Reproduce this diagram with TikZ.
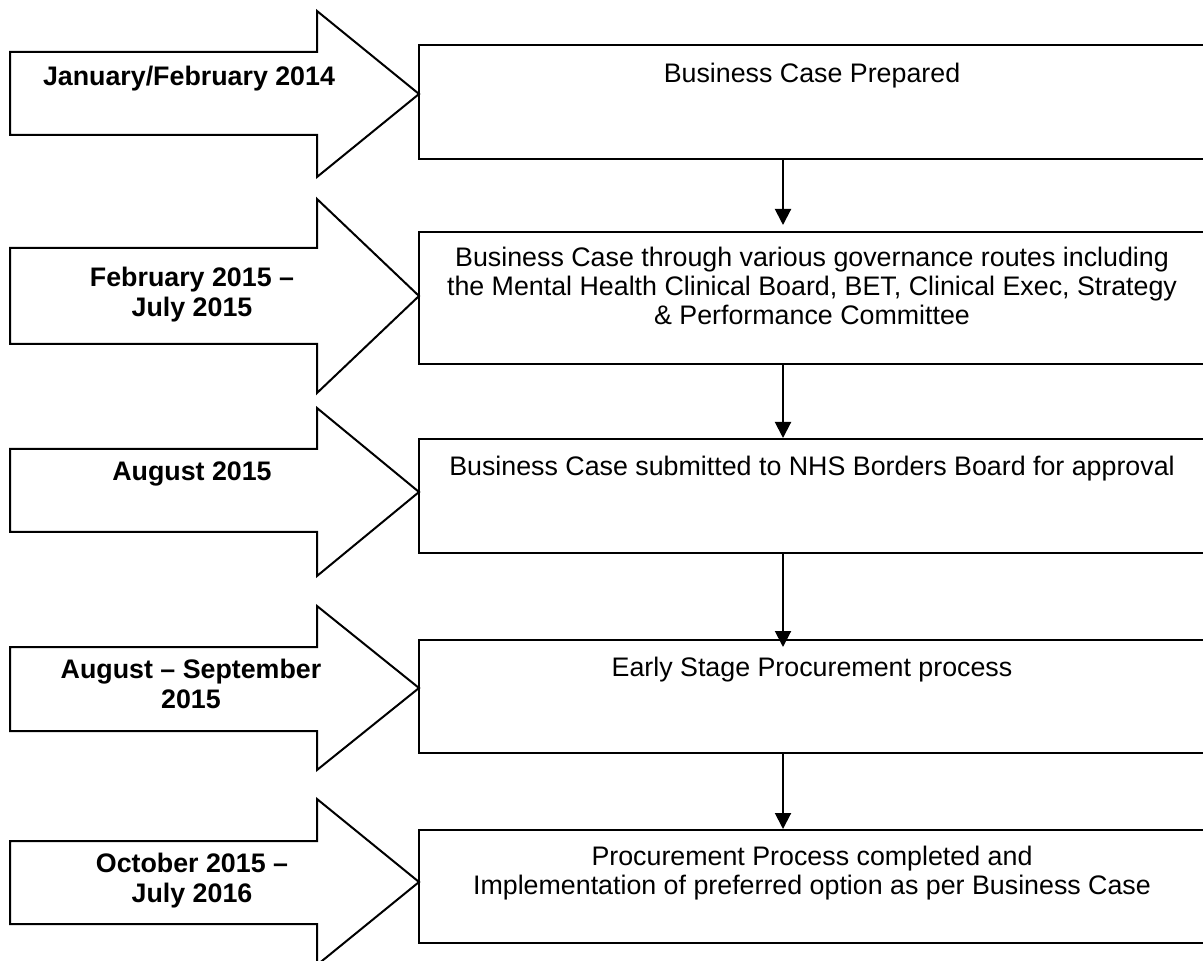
\documentclass[tikz,border=0pt]{standalone}
\usepackage{fontspec}
\setmainfont{Liberation Sans}
\usepackage{tikz}
\usetikzlibrary{arrows.meta}

\tikzset{
    datearrow/.style={draw, line width=1pt, line join=miter},
    datelabel/.style={font=\bfseries\fontsize{13.4}{15}\selectfont, align=center, inner sep=0pt},
    stepbox/.style={draw, line width=1pt, minimum width=394pt, inner sep=0pt},
    steptext/.style={font=\fontsize{13.4}{14.3}\selectfont, align=center, inner sep=0pt},
    flow/.style={line width=1pt, -{Triangle[length=8pt, width=8pt]}}
}

\begin{document}
\begin{tikzpicture}[x=0.5pt, y=-0.5pt]
    \useasboundingbox (0,0) rectangle (1203,961);

    % date arrows: shaft top/bottom, head top/bottom, tip
    \foreach \st/\sb/\ht/\hb/\ty in {52/135/11/177/94, 248/344/199/393/296,
        449/532/408/576/492, 647/731/606/770/688, 841/924/799/965/882}
        \draw[datearrow] (10,\st) -- (317,\st) -- (317,\ht) -- (419,\ty)
            -- (317,\hb) -- (317,\sb) -- (10,\sb) -- cycle;

    \node[datelabel] (d1) at (189,79) {January/February 2014};
    \node[datelabel] (d2) at (192,295) {February 2015 --\\July 2015};
    \node[datelabel] (d3) at (192,474) {August 2015};
    \node[datelabel] (d4) at (191,684) {August -- September\\2015};
    \node[datelabel] (d5) at (192,881) {October 2015 --\\July 2016};

    % process steps
    \node[stepbox, minimum height=57pt] (b1) at (813,102) {};
    \node[stepbox, minimum height=66pt] (b2) at (813,298) {};
    \node[stepbox, minimum height=57pt] (b3) at (813,496) {};
    \node[stepbox, minimum height=56.5pt] (b4) at (813,696.5) {};
    \node[stepbox, minimum height=56.5pt] (b5) at (813,886.5) {};

    \node[steptext] (t1) at (812,76) {Business Case Prepared};
    \node[steptext] (t2) at (812,286) {Business Case through various governance routes including\\
        the Mental Health Clinical Board, BET, Clinical Exec, Strategy\\
        \& Performance Committee};
    \node[steptext] (t3) at (812,469) {Business Case submitted to NHS Borders Board for approval};
    \node[steptext] (t4) at (812,670) {Early Stage Procurement process};
    \node[steptext] (t5) at (812,873) {Procurement Process completed and\\
        Implementation of preferred option as per Business Case};

    \coordinate (ax) at (783,0);
    \draw[flow, shorten >=3pt] (b1.south -| ax) -- (b2.north -| ax);
    \draw[flow] (b2.south -| ax) -- (b3.north -| ax);
    \draw[flow, shorten >=-4pt] (b3.south -| ax) -- (b4.north -| ax);
    \draw[flow] (b4.south -| ax) -- (b5.north -| ax);
\end{tikzpicture}
\end{document}
